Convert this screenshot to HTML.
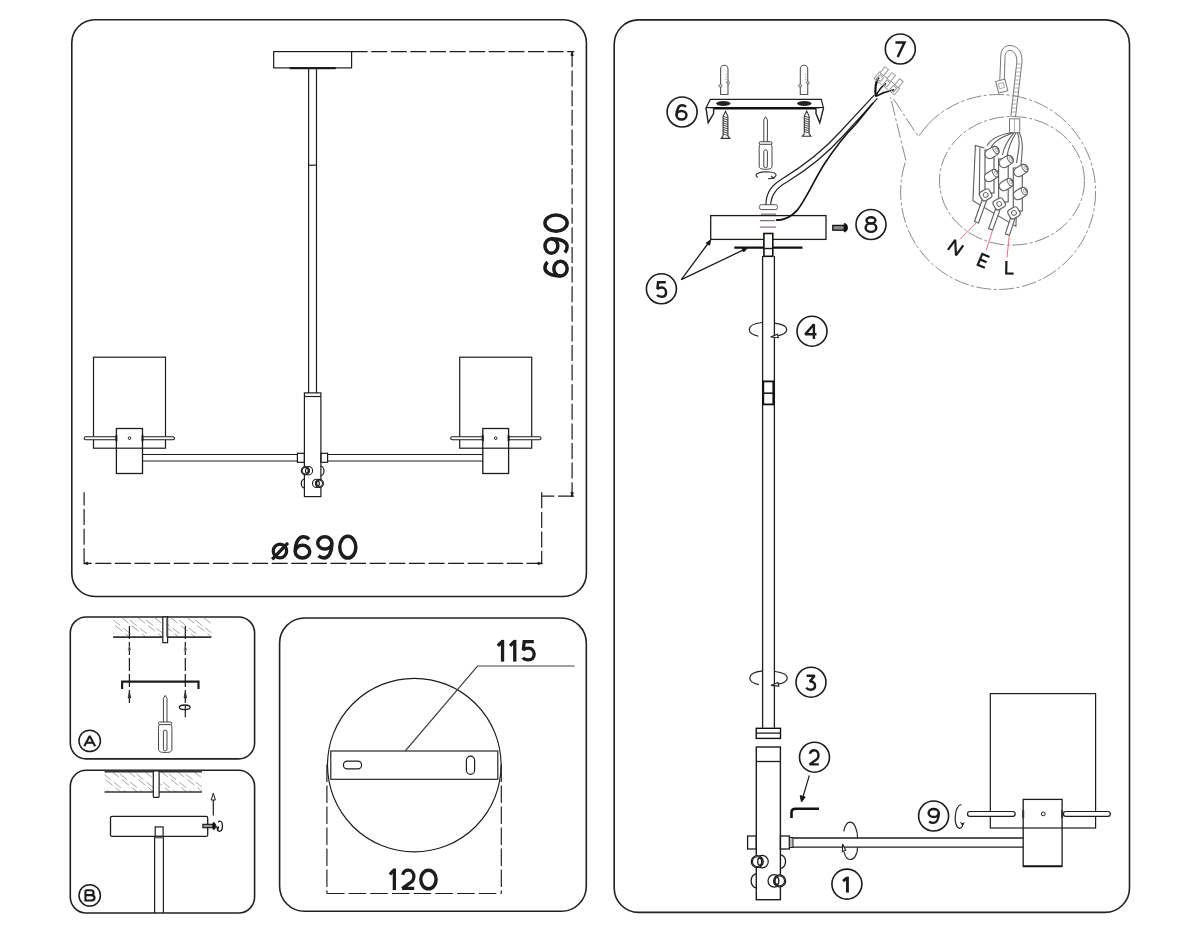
<!DOCTYPE html>
<html><head><meta charset="utf-8"><style>
html,body{margin:0;padding:0;background:#fff;width:1200px;height:933px;overflow:hidden;font-family:"Liberation Sans",sans-serif}
svg{display:block}
</style></head><body>
<svg width="1200" height="933" viewBox="0 0 1200 933">
<rect width="1200" height="933" fill="#fff"/>
<rect x="71.8" y="19.8" width="514.6" height="576.7" rx="23" fill="none" stroke="#222" stroke-width="1.6"/>
<rect x="70.3" y="617" width="184.3" height="141.9" rx="16" fill="none" stroke="#222" stroke-width="1.6"/>
<rect x="70.3" y="770.3" width="184.3" height="142.7" rx="16" fill="none" stroke="#222" stroke-width="1.6"/>
<rect x="279.6" y="618" width="306.7" height="293.3" rx="25" fill="none" stroke="#222" stroke-width="1.6"/>
<rect x="614.2" y="19.9" width="515.3" height="892.5" rx="24.4" fill="none" stroke="#222" stroke-width="1.6"/>
<rect x="273.7" y="51.6" width="77.9" height="16.3" fill="none" stroke="#1c1c1c" stroke-width="1.2"/>
<line x1="289.7" y1="68.2" x2="335.7" y2="68.2" stroke="#1c1c1c" stroke-width="2.2" stroke-linecap="butt"/>
<line x1="308.6" y1="68" x2="308.6" y2="393" stroke="#1c1c1c" stroke-width="1.2" stroke-linecap="butt"/>
<line x1="316.5" y1="68" x2="316.5" y2="393" stroke="#1c1c1c" stroke-width="1.2" stroke-linecap="butt"/>
<line x1="308.6" y1="165.2" x2="316.5" y2="165.2" stroke="#1c1c1c" stroke-width="1.2" stroke-linecap="butt"/>
<line x1="351.6" y1="51.6" x2="574.3" y2="51.6" stroke="#1c1c1c" stroke-width="1.2" stroke-dasharray="16 3.6" stroke-linecap="butt"/>
<line x1="572.1" y1="51" x2="572.1" y2="497" stroke="#1c1c1c" stroke-width="1.2" stroke-dasharray="16 3.6" stroke-linecap="butt"/>
<line x1="574" y1="496.2" x2="541.7" y2="496.2" stroke="#1c1c1c" stroke-width="1.2" stroke-dasharray="16 3.6" stroke-linecap="butt"/>
<line x1="541.7" y1="492.3" x2="541.7" y2="564.3" stroke="#1c1c1c" stroke-width="1.2" stroke-dasharray="16 3.6" stroke-linecap="butt"/>
<line x1="542.5" y1="563.4" x2="84.1" y2="563.4" stroke="#1c1c1c" stroke-width="1.2" stroke-dasharray="16 3.6" stroke-linecap="butt"/>
<line x1="84.1" y1="564.3" x2="84.1" y2="492.3" stroke="#1c1c1c" stroke-width="1.2" stroke-dasharray="16 3.6" stroke-linecap="butt"/>
<path d="M570.9 55.5 L572.1 51.8 L573.3 55.5 Z" fill="#1c1c1c" stroke="#1c1c1c" stroke-width="0.8" />
<path d="M570.9 492.5 L572.1 496.2 L573.3 492.5 Z" fill="#1c1c1c" stroke="#1c1c1c" stroke-width="0.8" />
<path d="M538 562.2 L541.7 563.4 L538 564.6 Z" fill="#1c1c1c" stroke="#1c1c1c" stroke-width="0.8" />
<path d="M87.8 562.2 L84.1 563.4 L87.8 564.6 Z" fill="#1c1c1c" stroke="#1c1c1c" stroke-width="0.8" />
<g transform="rotate(-90 556.05 245.45)"><ellipse cx="532.86" cy="249.89" rx="7.31" ry="6.66" fill="none" stroke="#1c1c1c" stroke-width="3.5"/><path d="M 525.55 249.89 C 525.55 239.9 529.2 234.35 533.59 234.35 C 536.07 234.35 537.97 235.24 539.43 237.01" fill="none" stroke="#1c1c1c" stroke-width="3.5" stroke-linejoin="miter" stroke-miterlimit="2"/></g>
<g transform="rotate(-90 556.05 245.45)"><ellipse cx="555.5" cy="240.79" rx="7.31" ry="6.44" fill="none" stroke="#1c1c1c" stroke-width="3.5"/><path d="M 562.8 240.79 C 562.8 250.33 559.59 256.55 554.77 256.55 C 552.57 256.55 550.67 255.66 548.92 254.33" fill="none" stroke="#1c1c1c" stroke-width="3.5" stroke-linejoin="miter" stroke-miterlimit="2"/></g>
<g transform="rotate(-90 556.05 245.45)"><ellipse cx="578.44" cy="245.45" rx="8.11" ry="11.1" fill="none" stroke="#1c1c1c" stroke-width="3.5"/></g>
<ellipse cx="279.95" cy="551" rx="6.7" ry="6.95" fill="none" stroke="#1c1c1c" stroke-width="3.3"/><path d="M 272.18 559.34 L 287.99 542.94" fill="none" stroke="#1c1c1c" stroke-width="3.3" stroke-linejoin="miter" stroke-miterlimit="2"/>
<ellipse cx="302.5" cy="551.66" rx="7.25" ry="6.39" fill="none" stroke="#1c1c1c" stroke-width="3.5"/><path d="M 295.25 551.66 C 295.25 542.08 298.88 536.75 303.23 536.75 C 305.69 536.75 307.57 537.6 309.02 539.31" fill="none" stroke="#1c1c1c" stroke-width="3.5" stroke-linejoin="miter" stroke-miterlimit="2"/>
<ellipse cx="324.8" cy="542.93" rx="7.05" ry="6.18" fill="none" stroke="#1c1c1c" stroke-width="3.5"/><path d="M 331.85 542.93 C 331.85 552.09 328.75 558.05 324.1 558.05 C 321.98 558.05 320.15 557.2 318.45 555.92" fill="none" stroke="#1c1c1c" stroke-width="3.5" stroke-linejoin="miter" stroke-miterlimit="2"/>
<ellipse cx="347.8" cy="547.2" rx="8.05" ry="10.85" fill="none" stroke="#1c1c1c" stroke-width="3.5"/>
<rect x="304.4" y="392.9" width="16.5" height="103.7" fill="none" stroke="#1c1c1c" stroke-width="1.2"/>
<line x1="304.4" y1="396.5" x2="320.9" y2="396.5" stroke="#1c1c1c" stroke-width="1.2" stroke-linecap="butt"/>
<rect x="297.4" y="453.3" width="7" height="9" fill="none" stroke="#1c1c1c" stroke-width="1.2"/>
<rect x="320.9" y="453.3" width="6.7" height="9" fill="none" stroke="#1c1c1c" stroke-width="1.2"/>
<line x1="142.5" y1="454.5" x2="297.4" y2="454.5" stroke="#1c1c1c" stroke-width="1.2" stroke-linecap="butt"/>
<line x1="327.6" y1="454.5" x2="482.8" y2="454.5" stroke="#1c1c1c" stroke-width="1.2" stroke-linecap="butt"/>
<line x1="142.5" y1="461" x2="297.4" y2="461" stroke="#1c1c1c" stroke-width="1.2" stroke-linecap="butt"/>
<line x1="327.6" y1="461" x2="482.8" y2="461" stroke="#1c1c1c" stroke-width="1.2" stroke-linecap="butt"/>
<circle cx="308.4" cy="470.7" r="4.22" fill="none" stroke="#1c1c1c" stroke-width="1.08"/>
<circle cx="305.4" cy="470.7" r="4.1" fill="#fff" stroke="#1c1c1c" stroke-width="1.17"/>
<circle cx="305.4" cy="470.7" r="3.3" fill="none" stroke="#1c1c1c" stroke-width="0.9900000000000001"/>
<ellipse cx="306.9" cy="470.7" rx="1.35" ry="2.46" fill="none" stroke="#1c1c1c" stroke-width="1.1700000000000002"/>
<path d="M320.6 466.2 A3.4 4.7 0 0 1 320.6 475.6" fill="none" stroke="#1c1c1c" stroke-width="1.2" />
<circle cx="316.6" cy="483.4" r="4.12" fill="none" stroke="#1c1c1c" stroke-width="1.08"/>
<circle cx="319.4" cy="483.4" r="4" fill="#fff" stroke="#1c1c1c" stroke-width="1.17"/>
<circle cx="319.4" cy="483.4" r="3.2" fill="none" stroke="#1c1c1c" stroke-width="0.9900000000000001"/>
<ellipse cx="318" cy="483.4" rx="1.32" ry="2.4" fill="none" stroke="#1c1c1c" stroke-width="1.1700000000000002"/>
<path d="M304.5 479.1 A3.2 4.4 0 0 0 304.5 487.9" fill="none" stroke="#1c1c1c" stroke-width="1.2" />
<rect x="93.5" y="357.2" width="72" height="91" fill="none" stroke="#1c1c1c" stroke-width="1.2"/>
<rect x="116.4" y="428.5" width="26.1" height="45" fill="none" stroke="#1c1c1c" stroke-width="1.3"/>
<rect x="84.2" y="436.7" width="32.2" height="3" rx="1.5" fill="#fff" stroke="#1c1c1c" stroke-width="1.1"/>
<rect x="142.5" y="436.7" width="32" height="3" rx="1.5" fill="#fff" stroke="#1c1c1c" stroke-width="1.1"/>
<line x1="116.4" y1="435.2" x2="116.4" y2="441.2" stroke="#1c1c1c" stroke-width="2" stroke-linecap="butt"/>
<line x1="142.5" y1="435.2" x2="142.5" y2="441.2" stroke="#1c1c1c" stroke-width="2" stroke-linecap="butt"/>
<circle cx="129.5" cy="438.2" r="1.3" fill="none" stroke="#1c1c1c" stroke-width="1"/>
<rect x="459.7" y="357.2" width="72" height="91" fill="none" stroke="#1c1c1c" stroke-width="1.2"/>
<rect x="482.8" y="428.5" width="25.8" height="45" fill="none" stroke="#1c1c1c" stroke-width="1.3"/>
<rect x="450.7" y="436.7" width="32.1" height="3" rx="1.5" fill="#fff" stroke="#1c1c1c" stroke-width="1.1"/>
<rect x="508.6" y="436.7" width="32.4" height="3" rx="1.5" fill="#fff" stroke="#1c1c1c" stroke-width="1.1"/>
<line x1="482.8" y1="435.2" x2="482.8" y2="441.2" stroke="#1c1c1c" stroke-width="2" stroke-linecap="butt"/>
<line x1="508.6" y1="435.2" x2="508.6" y2="441.2" stroke="#1c1c1c" stroke-width="2" stroke-linecap="butt"/>
<circle cx="495.7" cy="438.2" r="1.3" fill="none" stroke="#1c1c1c" stroke-width="1"/>
<clipPath id="hc113617"><rect x="113.1" y="617.5" width="98.3" height="19.5"/></clipPath>
<path clip-path="url(#hc113617)" d="M88.72 617.5 L113.1 637 M96.92 620 L121.3 639.5 M105.12 617.5 L129.5 637 M113.33 620 L137.7 639.5 M121.53 617.5 L145.9 637 M129.72 620 L154.1 639.5 M137.92 617.5 L162.3 637 M146.12 620 L170.5 639.5 M154.32 617.5 L178.7 637 M162.52 620 L186.9 639.5 M170.72 617.5 L195.1 637 M178.92 620 L203.3 639.5 M187.12 617.5 L211.5 637 M195.32 620 L219.7 639.5 M203.52 617.5 L227.9 637" stroke="#9c9c9c" stroke-width="0.9" fill="none" stroke-dasharray="9 4"/>
<clipPath id="hc104771"><rect x="104.6" y="771.5" width="97.3" height="20.5"/></clipPath>
<path clip-path="url(#hc104771)" d="M78.97 771.5 L104.6 792 M87.17 774 L112.8 794.5 M95.38 771.5 L121 792 M103.58 774 L129.2 794.5 M111.78 771.5 L137.4 792 M119.98 774 L145.6 794.5 M128.18 771.5 L153.8 792 M136.38 774 L162 794.5 M144.57 771.5 L170.2 792 M152.77 774 L178.4 794.5 M160.97 771.5 L186.6 792 M169.17 774 L194.8 794.5 M177.37 771.5 L203 792 M185.57 774 L211.2 794.5 M193.77 771.5 L219.4 792" stroke="#9c9c9c" stroke-width="0.9" fill="none" stroke-dasharray="9 4"/>
<line x1="113.1" y1="637.1" x2="211.4" y2="637.1" stroke="#333" stroke-width="1.6" stroke-linecap="butt"/>
<rect x="162.8" y="617" width="4.8" height="25.7" fill="#fff" stroke="#1c1c1c" stroke-width="1.2"/>
<line x1="167" y1="618" x2="167" y2="637" stroke="#555" stroke-width="1.6" stroke-linecap="butt"/>
<line x1="129.4" y1="626" x2="129.4" y2="705" stroke="#1c1c1c" stroke-width="1.2" stroke-dasharray="13 3" stroke-linecap="butt"/>
<line x1="185.3" y1="626" x2="185.3" y2="717.3" stroke="#1c1c1c" stroke-width="1.2" stroke-dasharray="13 3" stroke-linecap="butt"/>
<path d="M128.1 650 L129.4 646 L130.70000000000002 650 Z" fill="none" stroke="#777" stroke-width="0.9" />
<path d="M128.1 698 L129.4 692 L130.70000000000002 698 Z" fill="#333" stroke="#333" stroke-width="0.9" />
<path d="M184.0 650 L185.3 646 L186.60000000000002 650 Z" fill="none" stroke="#777" stroke-width="0.9" />
<path d="M184.0 698 L185.3 692 L186.60000000000002 698 Z" fill="#333" stroke="#333" stroke-width="0.9" />
<path d="M122.1 689 L122.1 681.7 L198.5 681.7 L198.5 689" fill="none" stroke="#1c1c1c" stroke-width="2.2" />
<ellipse cx="184.7" cy="707.3" rx="5.4" ry="2.3" fill="none" stroke="#1c1c1c" stroke-width="1.3"/>
<path d="M163.4 722 L163.4 698.4 L165.2 695.4 L167 698.4 L167 722" fill="none" stroke="#444" stroke-width="1.0" />
<rect x="158.5" y="722" width="13.4" height="2.6" rx="1.2" fill="#fff" stroke="#444" stroke-width="1.0"/>
<path d="M159.1 724.6 C158.2 727.6 158.5 729.6 158.5 731.6 L158.5 749.5 C158.5 752 161.5 752.5 165.2 752.5 C168.9 752.5 171.9 752 171.9 749.5 L171.9 731.6 C171.9 729.6 172.2 727.6 171.3 724.6" fill="none" stroke="#444" stroke-width="1.0" />
<rect x="163.4" y="730.1" width="3.6" height="20.9" rx="1.8" fill="none" stroke="#444" stroke-width="1.0"/>
<circle cx="89.7" cy="740.9" r="10.7" fill="none" stroke="#1c1c1c" stroke-width="1.5"/>
<path d="M 84.25 746.25 L 89.7 735.95 L 95.15 746.25" fill="none" stroke="#1c1c1c" stroke-width="2.1" stroke-linejoin="miter" stroke-miterlimit="2"/><path d="M 86.43 742.75 L 92.97 742.75" fill="none" stroke="#1c1c1c" stroke-width="2.1" stroke-linejoin="miter" stroke-miterlimit="2"/>
<line x1="104.6" y1="771.3" x2="201.9" y2="771.3" stroke="#333" stroke-width="2.2" stroke-linecap="butt"/>
<line x1="104.6" y1="792" x2="201.9" y2="792" stroke="#333" stroke-width="1.6" stroke-linecap="butt"/>
<rect x="153.3" y="771" width="5.8" height="26.4" rx="1" fill="#fff" stroke="#1c1c1c" stroke-width="1.2"/>
<rect x="110.5" y="816.4" width="97.2" height="20" rx="1.5" fill="#fff" stroke="#1c1c1c" stroke-width="1.3"/>
<rect x="155.2" y="826.9" width="7.9" height="9.5" fill="none" stroke="#1c1c1c" stroke-width="1.2"/>
<line x1="154.6" y1="836.4" x2="154.6" y2="913" stroke="#1c1c1c" stroke-width="1.2" stroke-linecap="butt"/>
<line x1="163.4" y1="836.4" x2="163.4" y2="913" stroke="#1c1c1c" stroke-width="1.2" stroke-linecap="butt"/>
<line x1="154.6" y1="837.6" x2="163.4" y2="837.6" stroke="#666" stroke-width="1.6" stroke-linecap="butt"/>
<rect x="202.9" y="824.3" width="10.2" height="3.4" fill="#999" stroke="#111" stroke-width="1.1"/>
<path d="M213 822.6 L213 829.5 C215 829.5 215.8 827.8 215.8 826 C215.8 824.2 215 822.6 213 822.6 Z" fill="#111" stroke="#111" stroke-width="0.8" />
<path d="M218.2 822.3 C219 820.8 221.5 820.6 222.2 823.5 C222.9 826.5 222.3 831.2 219.8 831.4 C218 831.5 217.4 829.5 217.4 827.5" fill="none" stroke="#111" stroke-width="1.2" />
<path d="M216.6 826 L217.6 829.8 L218.8 826.5" fill="none" stroke="#111" stroke-width="1.1" />
<line x1="213.3" y1="815.6" x2="213.3" y2="799" stroke="#1c1c1c" stroke-width="1.2" stroke-linecap="butt"/>
<path d="M211.2 800 L213.3 793.1 L215.4 800 Z" fill="#fff" stroke="#1c1c1c" stroke-width="1" />
<circle cx="89.7" cy="895.4" r="10.7" fill="none" stroke="#1c1c1c" stroke-width="1.5"/>
<path d="M 85.45 890.25 L 85.45 900.55 L 90.73 900.55 C 93.09 900.55 94.55 899.31 94.55 897.67 C 94.55 896.02 93.09 895.09 90.73 895.09 L 85.45 895.09 M 85.45 890.25 L 90.36 890.25 C 92.37 890.25 93.64 891.28 93.64 892.67 C 93.64 894.06 92.37 895.09 90.36 895.09" fill="none" stroke="#1c1c1c" stroke-width="2.1" stroke-linejoin="miter" stroke-miterlimit="2"/>
<circle cx="414.3" cy="765.1" r="86.8" fill="none" stroke="#1c1c1c" stroke-width="1.15"/>
<rect x="330.8" y="751" width="167" height="28.3" fill="#fff" stroke="#1c1c1c" stroke-width="1.15"/>
<rect x="343.4" y="761.1" width="18.2" height="7.8" rx="3.9" fill="none" stroke="#1c1c1c" stroke-width="1.2"/>
<rect x="466.4" y="756.2" width="8.2" height="18.2" rx="4.1" fill="none" stroke="#1c1c1c" stroke-width="1.2"/>
<path d="M405.2 751 L477.5 666 L574.6 666" fill="none" stroke="#444" stroke-width="1.2" />
<line x1="326.9" y1="764.5" x2="326.9" y2="893.5" stroke="#1c1c1c" stroke-width="1.15" stroke-dasharray="17.5 3.5" stroke-linecap="butt"/>
<line x1="501.3" y1="764.5" x2="501.3" y2="893.5" stroke="#1c1c1c" stroke-width="1.15" stroke-dasharray="17.5 3.5" stroke-linecap="butt"/>
<line x1="326.9" y1="893.5" x2="501.3" y2="893.5" stroke="#1c1c1c" stroke-width="1.15" stroke-dasharray="17.5 4.2" stroke-linecap="butt"/>
<path d="M 497.85 645.97 L 501.61 641.92" fill="none" stroke="#1c1c1c" stroke-width="3.3" stroke-linejoin="miter" stroke-miterlimit="2"/><path d="M 502.55 639.89 L 502.55 661.61" fill="none" stroke="#1c1c1c" stroke-width="3.3" stroke-linejoin="miter" stroke-miterlimit="2"/>
<path d="M 510.05 645.97 L 513.81 641.92" fill="none" stroke="#1c1c1c" stroke-width="3.3" stroke-linejoin="miter" stroke-miterlimit="2"/><path d="M 514.75 639.89 L 514.75 661.61" fill="none" stroke="#1c1c1c" stroke-width="3.3" stroke-linejoin="miter" stroke-miterlimit="2"/>
<path d="M 533.81 641.55 L 524.21 641.55 L 523.3 650.01 C 525.11 648.54 526.8 648.17 528.5 648.17 C 531.89 648.17 534.15 651.12 534.15 654.06 C 534.15 657.74 531.89 659.95 528.5 659.95 C 526.24 659.95 523.98 659.03 522.85 657.74" fill="none" stroke="#1c1c1c" stroke-width="3.3" stroke-linejoin="miter" stroke-miterlimit="2"/>
<path d="M 389.85 874.52 L 393.45 870.51" fill="none" stroke="#1c1c1c" stroke-width="3.3" stroke-linejoin="miter" stroke-miterlimit="2"/><path d="M 394.35 868.51 L 394.35 889.99" fill="none" stroke="#1c1c1c" stroke-width="3.3" stroke-linejoin="miter" stroke-miterlimit="2"/>
<path d="M 402.59 874.7 C 403.54 871.61 405.68 870.15 408.3 870.15 C 411.51 870.15 413.89 872.88 413.89 876.52 C 413.89 878.89 413.06 880.34 411.87 881.62 L 402.35 888.35 L 414.25 888.35" fill="none" stroke="#1c1c1c" stroke-width="3.3" stroke-linejoin="miter" stroke-miterlimit="2"/>
<ellipse cx="428.45" cy="879.5" rx="7.65" ry="9.3" fill="none" stroke="#1c1c1c" stroke-width="3.4"/>
<circle cx="682.1" cy="112" r="15" fill="none" stroke="#1c1c1c" stroke-width="1.6"/>
<ellipse cx="681.5" cy="115.2" rx="4.98" ry="4.28" fill="none" stroke="#1c1c1c" stroke-width="2.45"/><path d="M 676.52 115.2 C 676.52 108.79 679.01 105.22 682 105.22 C 683.69 105.22 684.98 105.79 685.98 106.93" fill="none" stroke="#1c1c1c" stroke-width="2.45" stroke-linejoin="miter" stroke-miterlimit="2"/>
<circle cx="900.3" cy="49" r="15" fill="none" stroke="#1c1c1c" stroke-width="1.6"/>
<path d="M 895.43 42.43 L 904.48 42.43 L 897.69 56.96" fill="none" stroke="#1c1c1c" stroke-width="2.45" stroke-linejoin="miter" stroke-miterlimit="2"/>
<circle cx="871" cy="224.5" r="15" fill="none" stroke="#1c1c1c" stroke-width="1.6"/>
<ellipse cx="870.95" cy="220.37" rx="4.47" ry="3.15" fill="none" stroke="#1c1c1c" stroke-width="2.45"/><ellipse cx="870.95" cy="227.63" rx="5.33" ry="4.25" fill="none" stroke="#1c1c1c" stroke-width="2.45"/>
<circle cx="661.4" cy="288.8" r="15" fill="none" stroke="#1c1c1c" stroke-width="1.6"/>
<path d="M 665.8 282.33 L 658.11 282.33 L 657.39 288.97 C 658.83 287.82 660.19 287.53 661.55 287.53 C 664.26 287.53 666.07 289.84 666.07 292.15 C 666.07 295.04 664.26 296.78 661.55 296.78 C 659.74 296.78 657.93 296.05 657.02 295.04" fill="none" stroke="#1c1c1c" stroke-width="2.45" stroke-linejoin="miter" stroke-miterlimit="2"/>
<circle cx="812" cy="331.2" r="15" fill="none" stroke="#1c1c1c" stroke-width="1.6"/>
<path d="M 813.89 338.96 L 813.89 324.23 L 805.23 334.34 L 816.48 334.34" fill="none" stroke="#1c1c1c" stroke-width="2.45" stroke-linejoin="miter" stroke-miterlimit="2"/>
<circle cx="811" cy="682.2" r="15" fill="none" stroke="#1c1c1c" stroke-width="1.6"/>
<path d="M 806.58 675.73 L 814.63 675.73 L 809.76 681.58 C 813.3 681.03 815.07 683.4 815.07 685.49 C 815.07 688 813.3 689.67 810.65 689.67 C 808.88 689.67 807.29 688.98 806.23 687.72" fill="none" stroke="#1c1c1c" stroke-width="2.45" stroke-linejoin="miter" stroke-miterlimit="2"/>
<circle cx="814.5" cy="757.2" r="15" fill="none" stroke="#1c1c1c" stroke-width="1.6"/>
<path d="M 809.81 753.76 C 810.54 751.36 812.19 750.23 814.2 750.23 C 816.67 750.23 818.5 752.35 818.5 755.18 C 818.5 757.02 817.86 758.15 816.95 759.14 L 809.62 764.38 L 818.77 764.38" fill="none" stroke="#1c1c1c" stroke-width="2.45" stroke-linejoin="miter" stroke-miterlimit="2"/>
<circle cx="846.9" cy="884.1" r="15" fill="none" stroke="#1c1c1c" stroke-width="1.6"/>
<path d="M 843.05 881.09 L 846.57 878.12" fill="none" stroke="#1c1c1c" stroke-width="2.9" stroke-linejoin="miter" stroke-miterlimit="2"/><path d="M 847.45 876.63 L 847.45 892.57" fill="none" stroke="#1c1c1c" stroke-width="2.9" stroke-linejoin="miter" stroke-miterlimit="2"/>
<circle cx="933.6" cy="816" r="15" fill="none" stroke="#1c1c1c" stroke-width="1.6"/>
<ellipse cx="933.7" cy="812.97" rx="5.08" ry="4.05" fill="none" stroke="#1c1c1c" stroke-width="2.45"/><path d="M 938.77 812.97 C 938.77 818.97 936.54 822.88 933.19 822.88 C 931.67 822.88 930.35 822.32 929.13 821.48" fill="none" stroke="#1c1c1c" stroke-width="2.45" stroke-linejoin="miter" stroke-miterlimit="2"/>
<path d="M720.6 94.5 L720.6 69 A3.7 3.7 0 0 1 728 69 L728 94.5 Z" fill="#fff" stroke="#555" stroke-width="1.1" />
<ellipse cx="720.4" cy="85.8" rx="1.6" ry="1.2" fill="#fff" stroke="#555" stroke-width="0.9"/>
<ellipse cx="728.2" cy="82.8" rx="1.2" ry="1.3" fill="#fff" stroke="#555" stroke-width="0.9"/>
<line x1="725.5" y1="74.3" x2="726.7" y2="74.3" stroke="#888" stroke-width="0.8" stroke-linecap="butt"/>
<line x1="725.5" y1="76.9" x2="726.7" y2="76.9" stroke="#888" stroke-width="0.8" stroke-linecap="butt"/>
<line x1="725.5" y1="79.5" x2="726.7" y2="79.5" stroke="#888" stroke-width="0.8" stroke-linecap="butt"/>
<line x1="725.5" y1="82.1" x2="726.7" y2="82.1" stroke="#888" stroke-width="0.8" stroke-linecap="butt"/>
<path d="M800.3 94.5 L800.3 69 A3.7 3.7 0 0 1 807.7 69 L807.7 94.5 Z" fill="#fff" stroke="#555" stroke-width="1.1" />
<ellipse cx="800.1" cy="85.8" rx="1.6" ry="1.2" fill="#fff" stroke="#555" stroke-width="0.9"/>
<ellipse cx="807.9" cy="82.8" rx="1.2" ry="1.3" fill="#fff" stroke="#555" stroke-width="0.9"/>
<line x1="805.2" y1="74.3" x2="806.4" y2="74.3" stroke="#888" stroke-width="0.8" stroke-linecap="butt"/>
<line x1="805.2" y1="76.9" x2="806.4" y2="76.9" stroke="#888" stroke-width="0.8" stroke-linecap="butt"/>
<line x1="805.2" y1="79.5" x2="806.4" y2="79.5" stroke="#888" stroke-width="0.8" stroke-linecap="butt"/>
<line x1="805.2" y1="82.1" x2="806.4" y2="82.1" stroke="#888" stroke-width="0.8" stroke-linecap="butt"/>
<path d="M706 108.1 L710.3 99.4 L821.3 99.4 L823.5 108.1 Z" fill="#fff" stroke="#222" stroke-width="1.2" />
<line x1="706" y1="108.3" x2="823.5" y2="108.3" stroke="#111" stroke-width="2.4" stroke-linecap="butt"/>
<path d="M706 108.1 L708.2 122.7 L713.6 113.5 L713.6 108.6" fill="#fff" stroke="#222" stroke-width="1.4" />
<path d="M823.5 108.1 L819.8 122.7 L816 113.5 L816 108.6" fill="#fff" stroke="#222" stroke-width="1.4" />
<ellipse cx="723.3" cy="103.5" rx="6.8" ry="1.9" fill="#222" stroke="#222" stroke-width="1"/>
<ellipse cx="804.3" cy="103.5" rx="6.8" ry="1.9" fill="#222" stroke="#222" stroke-width="1"/>
<path d="M723.1 135.9 L723.1 116.3 L725.5 111.3 L727.9 116.3 L727.9 135.9" fill="#fff" stroke="#333" stroke-width="1.1" />
<path d="M723.1 116.3 L727.9 117.9 M723.1 118.5 L727.9 120.1 M723.1 120.7 L727.9 122.3 M723.1 122.9 L727.9 124.5 M723.1 125.1 L727.9 126.7 M723.1 127.3 L727.9 128.9 M723.1 129.5 L727.9 131.1 M723.1 131.7 L727.9 133.3 M723.1 133.9 L727.9 135.5" fill="none" stroke="#333" stroke-width="0.9" />
<path d="M723.1 135.9 L721.2 138.4 L729.8 138.4 L727.9 135.9" fill="#fff" stroke="#333" stroke-width="1.1" />
<path d="M804.3 133.8 L804.3 116.1 L806.7 111.1 L809.1 116.1 L809.1 133.8" fill="#fff" stroke="#333" stroke-width="1.1" />
<path d="M804.3 116.1 L809.1 117.7 M804.3 118.3 L809.1 119.9 M804.3 120.5 L809.1 122.1 M804.3 122.7 L809.1 124.3 M804.3 124.9 L809.1 126.5 M804.3 127.1 L809.1 128.7 M804.3 129.3 L809.1 130.9 M804.3 131.5 L809.1 133.1" fill="none" stroke="#333" stroke-width="0.9" />
<path d="M804.3 133.8 L802.4 136.3 L811 136.3 L809.1 133.8" fill="#fff" stroke="#333" stroke-width="1.1" />
<path d="M763.8 141.7 L763.8 119.8 L765.6 116.8 L767.4 119.8 L767.4 141.7" fill="none" stroke="#444" stroke-width="1.0" />
<rect x="759.2" y="141.7" width="12.8" height="2.6" rx="1.2" fill="#fff" stroke="#444" stroke-width="1.0"/>
<path d="M759.8 144.3 C758.9 147.3 759.2 149.3 759.2 151.3 L759.2 166.3 C759.2 168.8 762.2 169.3 765.6 169.3 C769 169.3 772 168.8 772 166.3 L772 151.3 C772 149.3 772.3 147.3 771.4 144.3" fill="none" stroke="#444" stroke-width="1.0" />
<rect x="763.8" y="149.8" width="3.6" height="18" rx="1.8" fill="none" stroke="#444" stroke-width="1.0"/>
<path d="M758 177.5 C754 175.5 756 172 766.5 171.8 C777 172 778.5 175.5 772.5 178.2" fill="none" stroke="#333" stroke-width="1.1" />
<path d="M768 178.8 L773.5 178.3 L771 176" fill="none" stroke="#333" stroke-width="1.1" />
<path d="M765.9 205 C766 192 772 185 782 179 C800 168 822 152 840 132 L874.2 95.2" fill="none" stroke="#222" stroke-width="1.2" />
<path d="M770.7 205 C771 195 776 188 787 182 C805 171 826 155 843 136 L877.4 98.4" fill="none" stroke="#222" stroke-width="1.2" />
<path d="M776.2 220.1 C786 220.5 792 216 797.5 210 C808 196 815 178 825 163 C835 148 848 132 856 124 L873 103" fill="none" stroke="#111" stroke-width="1.6" />
<path d="M875.8 96.4 C875 90 875.5 82 878.7 77.3" fill="none" stroke="#111" stroke-width="2.2" />
<path d="M875.8 96.4 C878 91 882 86 886 83.3" fill="none" stroke="#111" stroke-width="1.4" />
<path d="M875.8 96.4 C882 93 888 91 894.2 89.8" fill="none" stroke="#111" stroke-width="1.4" />
<g transform="rotate(39 886.9 83.4)" fill="none" stroke="#9a9a9a" stroke-width="1"><rect x="873.9" y="79.15" width="26" height="8.5"/><rect x="876.2" y="81" width="4.5" height="5"/><rect x="884.6" y="81" width="4.5" height="5"/><rect x="893" y="81" width="4.5" height="5"/></g>
<rect transform="rotate(39 884.3 71.1)" x="882" y="67.15" width="4.6" height="7.9" fill="#fff" stroke="#9a9a9a" stroke-width="1"/>
<rect transform="rotate(39 891.2 77.1)" x="888.9" y="73.15" width="4.6" height="7.9" fill="#fff" stroke="#9a9a9a" stroke-width="1"/>
<rect transform="rotate(39 898.9 83.3)" x="896.6" y="79.35" width="4.6" height="7.9" fill="#fff" stroke="#9a9a9a" stroke-width="1"/>
<rect x="759.4" y="204.7" width="18.1" height="4.9" rx="2" fill="#fff" stroke="#555" stroke-width="1"/>
<rect x="710.7" y="215.6" width="115.3" height="23.8" fill="none" stroke="#1c1c1c" stroke-width="1.3"/>
<line x1="761" y1="214.2" x2="776" y2="214.2" stroke="#a68ca6" stroke-width="1.6" stroke-linecap="butt"/>
<line x1="760" y1="220.6" x2="775" y2="220.6" stroke="#777" stroke-width="1.3" stroke-linecap="butt"/>
<line x1="760" y1="227.1" x2="776" y2="227.1" stroke="#a68ca6" stroke-width="1.6" stroke-linecap="butt"/>
<path d="M776.2 220.1 C786 220.5 792 216 797.5 210" fill="none" stroke="#111" stroke-width="1.6" />
<line x1="734.3" y1="247.7" x2="802.5" y2="247.7" stroke="#111" stroke-width="2.2" stroke-linecap="butt"/>
<rect x="763.9" y="233.5" width="8.9" height="22.8" fill="#fff" stroke="#111" stroke-width="1.6"/>
<line x1="763.9" y1="248.5" x2="772.8" y2="248.5" stroke="#1c1c1c" stroke-width="1.4" stroke-linecap="butt"/>
<rect x="832.8" y="225.4" width="11.5" height="4.8" fill="#888" stroke="#111" stroke-width="1.3"/>
<path d="M844.2 223.5 L844.2 231.9 C846.5 231.9 847.5 230 847.5 227.7 C847.5 225.4 846.5 223.5 844.2 223.5 Z" fill="#111" stroke="#111" stroke-width="0.8" />
<line x1="681.3" y1="279.7" x2="709.5" y2="241.5" stroke="#1c1c1c" stroke-width="1.3" stroke-linecap="butt"/>
<path d="M706.3 243 L710.7 239.9 L709.6 245.2 Z" fill="#111" stroke="#1c1c1c" stroke-width="1" />
<line x1="681.3" y1="279.7" x2="745.5" y2="248.9" stroke="#1c1c1c" stroke-width="1.3" stroke-linecap="butt"/>
<path d="M742 248.3 L747.3 248.2 L743.6 252 Z" fill="#111" stroke="#1c1c1c" stroke-width="1" />
<line x1="762.6" y1="256" x2="762.6" y2="727.7" stroke="#1c1c1c" stroke-width="1.3" stroke-linecap="butt"/>
<line x1="774.4" y1="256" x2="774.4" y2="727.7" stroke="#1c1c1c" stroke-width="1.3" stroke-linecap="butt"/>
<rect x="763.3" y="381.4" width="10" height="23" fill="#fff" stroke="#111" stroke-width="1.8"/>
<line x1="763.3" y1="393.2" x2="773.3" y2="393.2" stroke="#1c1c1c" stroke-width="1.6" stroke-linecap="butt"/>
<path d="M762 322.5 C754 323.5 749.25 326 749.25 329.5 C749.25 332.5 753 335 758.5 336.25" fill="none" stroke="#222" stroke-width="1.2" />
<path d="M774.5 323.1 C782 324 786.75 326.5 786.75 329.5 C786.75 332.5 783 334.7 777.5 335.8" fill="none" stroke="#222" stroke-width="1.2" />
<path d="M770.5 337 L777.5 334.2 L778.3 337.7 Z" fill="#fff" stroke="#222" stroke-width="1.1" />
<path d="M762.5 670.9 C754.5 671.9 749.75 674.4 749.75 677.9 C749.75 680.9 753.5 683.4 759 684.65" fill="none" stroke="#222" stroke-width="1.2" />
<path d="M775 671.5 C782.5 672.4 787.25 674.9 787.25 677.9 C787.25 680.9 783.5 683.1 778 684.2" fill="none" stroke="#222" stroke-width="1.2" />
<path d="M771 685.4 L778 682.6 L778.8 686.1 Z" fill="#fff" stroke="#222" stroke-width="1.1" />
<rect x="756.2" y="728.3" width="24.3" height="10.1" fill="#fff" stroke="#111" stroke-width="1.4"/>
<line x1="756.2" y1="733.1" x2="780.5" y2="733.1" stroke="#1c1c1c" stroke-width="1.3" stroke-linecap="butt"/>
<rect x="756.3" y="747" width="24.1" height="152.7" fill="none" stroke="#1c1c1c" stroke-width="1.4"/>
<line x1="756.3" y1="761.5" x2="780.4" y2="761.5" stroke="#1c1c1c" stroke-width="1.3" stroke-linecap="butt"/>
<rect x="747.6" y="836" width="8.7" height="13" fill="none" stroke="#1c1c1c" stroke-width="1.3"/>
<rect x="780.4" y="836" width="9" height="13" fill="none" stroke="#1c1c1c" stroke-width="1.3"/>
<rect x="789.4" y="837.5" width="3.6" height="10" fill="#bbb" stroke="#222" stroke-width="1"/>
<line x1="793" y1="838" x2="1023.2" y2="838" stroke="#1c1c1c" stroke-width="1.3" stroke-linecap="butt"/>
<line x1="793" y1="847.2" x2="1023.2" y2="847.2" stroke="#1c1c1c" stroke-width="1.3" stroke-linecap="butt"/>
<circle cx="762.1" cy="861.6" r="6.18" fill="none" stroke="#1c1c1c" stroke-width="1.2"/>
<circle cx="757.3" cy="861.6" r="6" fill="#fff" stroke="#1c1c1c" stroke-width="1.3"/>
<circle cx="757.3" cy="861.6" r="4.9" fill="none" stroke="#1c1c1c" stroke-width="1.1"/>
<ellipse cx="759.7" cy="861.6" rx="1.98" ry="3.6" fill="none" stroke="#1c1c1c" stroke-width="1.3"/>
<path d="M780.4 854.9 A5.2 6.7 0 0 1 780.4 868.3" fill="none" stroke="#1c1c1c" stroke-width="1.3" />
<circle cx="774.2" cy="880.9" r="6.18" fill="none" stroke="#1c1c1c" stroke-width="1.2"/>
<circle cx="779.6" cy="880.9" r="6" fill="#fff" stroke="#1c1c1c" stroke-width="1.3"/>
<circle cx="779.6" cy="880.9" r="4.9" fill="none" stroke="#1c1c1c" stroke-width="1.1"/>
<ellipse cx="776.9" cy="880.9" rx="1.98" ry="3.6" fill="none" stroke="#1c1c1c" stroke-width="1.3"/>
<path d="M756.5 873.9 A5.4 7 0 0 0 756.5 887.9" fill="none" stroke="#1c1c1c" stroke-width="1.3" />
<path d="M791.5 818 L791.5 812.5 C791.5 810 793 808.7 795.5 808.7 L819 808.7" fill="none" stroke="#111" stroke-width="2.6" />
<line x1="809.3" y1="775.3" x2="802.8" y2="797.5" stroke="#1c1c1c" stroke-width="1.2" stroke-linecap="butt"/>
<path d="M800.2 795.6 L801.5 802 L805.2 797 Z" fill="#111" stroke="#1c1c1c" stroke-width="1" />
<path d="M843.7 831.4 C845 825.5 847.5 822.2 850.1 822.2 C854.5 822.2 857.6 830 857.6 838.3" fill="none" stroke="#222" stroke-width="1.2" />
<path d="M857.6 847.2 C857.6 854 854.5 859.5 850.1 859.5 C847.2 859.5 845 856.5 844.2 852" fill="none" stroke="#222" stroke-width="1.2" />
<path d="M842.4 851.6 L842.6 844 L845.6 850.2 Z" fill="#fff" stroke="#222" stroke-width="1.1" />
<path d="M961.5 804.5 C954 806 953 827 959.5 828.3 C962 828.5 963 826 962.5 823" fill="none" stroke="#222" stroke-width="1.2" />
<path d="M960.5 822 L962.6 825.6 L964.2 822.2" fill="none" stroke="#222" stroke-width="1" />
<rect x="990.3" y="693.6" width="105.3" height="134.4" fill="none" stroke="#1c1c1c" stroke-width="1.2"/>
<rect x="1023.2" y="799.4" width="38.9" height="67" fill="none" stroke="#1c1c1c" stroke-width="1.3"/>
<line x1="1023.2" y1="866.3" x2="1062.1" y2="866.3" stroke="#1c1c1c" stroke-width="2" stroke-linecap="butt"/>
<rect x="967.5" y="811.5" width="47.7" height="4.8" rx="2.4" fill="#fff" stroke="#1c1c1c" stroke-width="1.2"/>
<rect x="1063.4" y="811.5" width="46.9" height="4.8" rx="2.4" fill="#fff" stroke="#1c1c1c" stroke-width="1.2"/>
<rect x="1022.2" y="810" width="2" height="8" fill="#333"/>
<rect x="1061.1" y="810" width="2" height="8" fill="#333"/>
<circle cx="1043.3" cy="813.9" r="1.9" fill="none" stroke="#1c1c1c" stroke-width="1"/>
<path d="M928.15 124.08 A97.5 97.5 0 1 1 905.87 160.39" fill="none" stroke="#8a8a8a" stroke-width="1" stroke-dasharray="15 2.5 3 2.5"/>
<path d="M928.15 124.08 L918.3 136.6 L893.5 99" fill="none" stroke="#8a8a8a" stroke-width="1" stroke-dasharray="15 2.5 3 2.5"/>
<path d="M905.87 160.39 L890.5 97" fill="none" stroke="#8a8a8a" stroke-width="1" stroke-dasharray="15 2.5 3 2.5"/>
<ellipse cx="1012" cy="180.8" rx="72.5" ry="64.3" fill="none" stroke="#8a8a8a" stroke-width="1" stroke-dasharray="15 2.5 3 2.5"/>
<path d="M1015.5 117 L1022 62 C1022.5 50 1016 45.5 1010 45.5 C1004 45.5 1000.8 50 1000.8 56 L999.8 80" fill="none" stroke="#777" stroke-width="1" />
<path d="M1010.8 117 L1016.8 62 C1017 54 1013.5 50.5 1010 50.5 C1006.5 50.5 1005 53.5 1005 57 L1004.3 80" fill="none" stroke="#777" stroke-width="1" />
<path d="M1016.36 64 L1021.56 64 M1015.89 68 L1021.09 68 M1015.42 72 L1020.62 72 M1014.95 76 L1020.15 76 M1014.47 80 L1019.67 80 M1014 84 L1019.2 84 M1013.53 88 L1018.73 88 M1013.05 92 L1018.25 92 M1012.58 96 L1017.78 96 M1012.11 100 L1017.31 100 M1011.64 104 L1016.84 104 M1011.16 108 L1016.36 108 M1010.69 112 L1015.89 112" fill="none" stroke="#999" stroke-width="0.8" />
<g transform="rotate(-15 1002 86)"><rect x="997" y="80" width="9.5" height="12" fill="#fff" stroke="#777" stroke-width="1"/><rect x="999" y="83" width="5" height="5" fill="none" stroke="#999" stroke-width="0.8"/></g>
<rect x="1009.5" y="118.8" width="10.2" height="13.9" fill="none" stroke="#777" stroke-width="1"/>
<line x1="1014.5" y1="118.8" x2="1014.5" y2="132.7" stroke="#999" stroke-width="0.8" stroke-linecap="butt"/>
<path d="M1011.5 132.7 C1003 134 992 137 987 145.5" fill="none" stroke="#5e5e5e" stroke-width="1.1" />
<path d="M1013 132.7 C1005 136 996 139 991 147" fill="none" stroke="#5e5e5e" stroke-width="1.1" />
<path d="M1014 132.7 C1008 140 1004 146 1002.5 155" fill="none" stroke="#5e5e5e" stroke-width="1.1" />
<path d="M1016 132.7 C1011 141 1008 148 1007 157" fill="none" stroke="#5e5e5e" stroke-width="1.1" />
<path d="M1017.5 132.7 C1021 142 1018 152 1016.5 163" fill="none" stroke="#5e5e5e" stroke-width="1.1" />
<path d="M1019.5 132.7 C1024 142 1022 152 1021 165" fill="none" stroke="#5e5e5e" stroke-width="1.1" />
<path d="M984.4 148 L975.4 145.4 L972.9 200.7 L1015.9 226.4 L1016.6 209.7" fill="none" stroke="#5e5e5e" stroke-width="1.1" />
<line x1="979.9" y1="147.4" x2="979.3" y2="195.6" stroke="#5e5e5e" stroke-width="1.1" stroke-linecap="butt"/>
<rect x="985" y="150" width="9" height="43" fill="#fff" stroke="#5e5e5e" stroke-width="1.15"/>
<rect x="998.6" y="159" width="9.6" height="43" fill="#fff" stroke="#5e5e5e" stroke-width="1.15"/>
<rect x="1013.3" y="168" width="9" height="43" fill="#fff" stroke="#5e5e5e" stroke-width="1.15"/>
<g transform="rotate(-32 992.1 152.5)"><rect x="984.6" y="147.9" width="15" height="9.2" rx="4.6" fill="#fff" stroke="#5e5e5e" stroke-width="1.15"/><ellipse cx="996.6" cy="152.5" rx="2.2" ry="4.2" fill="none" stroke="#5e5e5e" stroke-width="0.9"/><ellipse cx="997.1" cy="152.5" rx="1" ry="2" fill="none" stroke="#999" stroke-width="0.7"/></g>
<g transform="rotate(-32 991.5 175.6)"><rect x="984" y="171" width="15" height="9.2" rx="4.6" fill="#fff" stroke="#5e5e5e" stroke-width="1.15"/><ellipse cx="996" cy="175.6" rx="2.2" ry="4.2" fill="none" stroke="#5e5e5e" stroke-width="0.9"/><ellipse cx="996.5" cy="175.6" rx="1" ry="2" fill="none" stroke="#999" stroke-width="0.7"/></g>
<g transform="rotate(-32 1006.3 161.5)"><rect x="998.8" y="156.9" width="15" height="9.2" rx="4.6" fill="#fff" stroke="#5e5e5e" stroke-width="1.15"/><ellipse cx="1010.8" cy="161.5" rx="2.2" ry="4.2" fill="none" stroke="#5e5e5e" stroke-width="0.9"/><ellipse cx="1011.3" cy="161.5" rx="1" ry="2" fill="none" stroke="#999" stroke-width="0.7"/></g>
<g transform="rotate(-32 1006.3 184.6)"><rect x="998.8" y="180" width="15" height="9.2" rx="4.6" fill="#fff" stroke="#5e5e5e" stroke-width="1.15"/><ellipse cx="1010.8" cy="184.6" rx="2.2" ry="4.2" fill="none" stroke="#5e5e5e" stroke-width="0.9"/><ellipse cx="1011.3" cy="184.6" rx="1" ry="2" fill="none" stroke="#999" stroke-width="0.7"/></g>
<g transform="rotate(-32 1021 170.5)"><rect x="1013.5" y="165.9" width="15" height="9.2" rx="4.6" fill="#fff" stroke="#5e5e5e" stroke-width="1.15"/><ellipse cx="1025.5" cy="170.5" rx="2.2" ry="4.2" fill="none" stroke="#5e5e5e" stroke-width="0.9"/><ellipse cx="1026" cy="170.5" rx="1" ry="2" fill="none" stroke="#999" stroke-width="0.7"/></g>
<g transform="rotate(-32 1020.4 193.6)"><rect x="1012.9" y="189" width="15" height="9.2" rx="4.6" fill="#fff" stroke="#5e5e5e" stroke-width="1.15"/><ellipse cx="1024.9" cy="193.6" rx="2.2" ry="4.2" fill="none" stroke="#5e5e5e" stroke-width="0.9"/><ellipse cx="1025.4" cy="193.6" rx="1" ry="2" fill="none" stroke="#999" stroke-width="0.7"/></g>
<path d="M983.5 196 L974.5 221.5 L978.5 223 L987.9 197 Z" fill="#fff" stroke="#5e5e5e" stroke-width="1.1" />
<path d="M997 205 L988.6 228.6 L992.6 230.1 L1001.4 206 Z" fill="#fff" stroke="#5e5e5e" stroke-width="1.1" />
<path d="M1011.8 214 L1005.4 233.8 L1009.4 235.3 L1016.2 215 Z" fill="#fff" stroke="#5e5e5e" stroke-width="1.1" />
<g transform="rotate(-30 985.7 194.9)"><rect x="980.2" y="189.9" width="11" height="10" rx="3" fill="#fff" stroke="#5e5e5e" stroke-width="1.15"/><circle cx="985.7" cy="194.9" r="2.4" fill="none" stroke="#5e5e5e" stroke-width="0.9"/></g>
<g transform="rotate(-30 999.2 203.9)"><rect x="993.7" y="198.9" width="11" height="10" rx="3" fill="#fff" stroke="#5e5e5e" stroke-width="1.15"/><circle cx="999.2" cy="203.9" r="2.4" fill="none" stroke="#5e5e5e" stroke-width="0.9"/></g>
<g transform="rotate(-30 1014 212.9)"><rect x="1008.5" y="207.9" width="11" height="10" rx="3" fill="#fff" stroke="#5e5e5e" stroke-width="1.15"/><circle cx="1014" cy="212.9" r="2.4" fill="none" stroke="#5e5e5e" stroke-width="0.9"/></g>
<line x1="976.7" y1="222.5" x2="960" y2="239.2" stroke="#e8707a" stroke-width="1" stroke-linecap="butt"/>
<line x1="992.5" y1="230.5" x2="986.2" y2="250.4" stroke="#e8707a" stroke-width="1" stroke-linecap="butt"/>
<line x1="1009.2" y1="236" x2="1007" y2="257.5" stroke="#e8707a" stroke-width="1" stroke-linecap="butt"/>
<g transform="rotate(36 955.6 247.6)"><path d="M 950.7 253.94 L 950.7 241.5 L 960.5 253.7 L 960.5 241.26" fill="none" stroke="#1c1c1c" stroke-width="2.2" stroke-linejoin="miter" stroke-miterlimit="2"/></g>
<g transform="rotate(23 983.6 260.9)"><path d="M 987.5 255 L 979.7 255 L 979.7 266.8 L 987.5 266.8 M 979.7 260.9 L 986.88 260.9" fill="none" stroke="#1c1c1c" stroke-width="2.2" stroke-linejoin="miter" stroke-miterlimit="2"/></g>
<g transform="rotate(1 1010 267.5)"><path d="M 1006.3 261.16 L 1006.3 273.6 L 1013.7 273.6" fill="none" stroke="#1c1c1c" stroke-width="2.2" stroke-linejoin="miter" stroke-miterlimit="2"/></g>
</svg>
</body></html>
